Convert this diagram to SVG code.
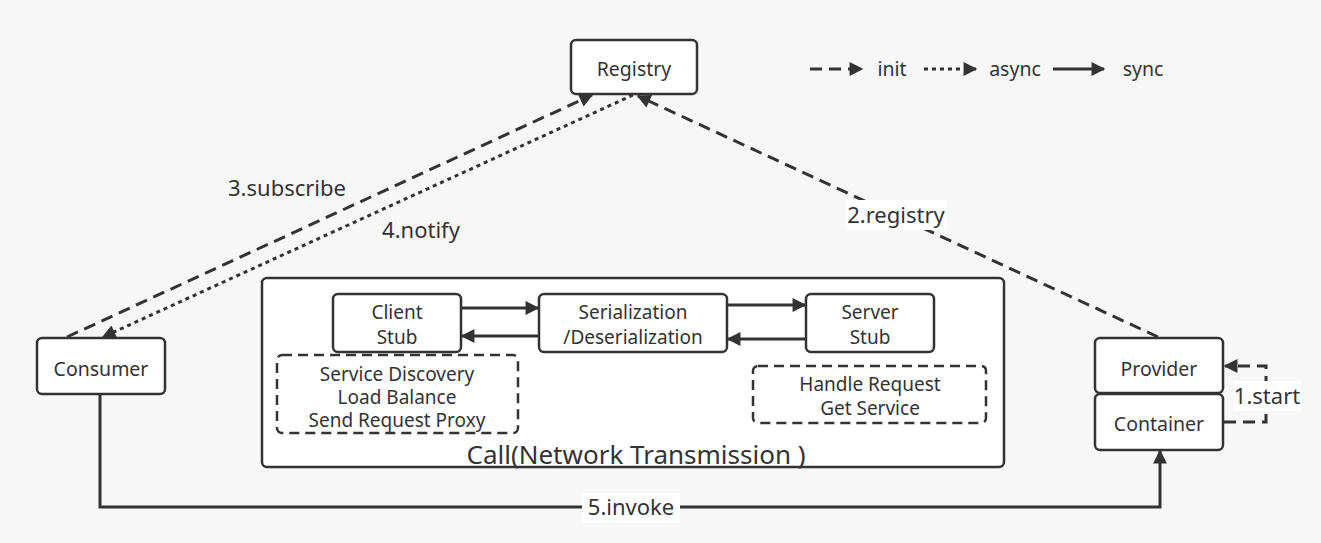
<svg xmlns="http://www.w3.org/2000/svg" width="1321" height="543" viewBox="0 0 1321 543">
<style>
.bg{fill:#f7f7f7}
.node{fill:#fff;stroke:#333;stroke-width:2.5}
.dbox{fill:none;stroke:#333;stroke-width:2.5;stroke-dasharray:10 6}
.t{font-family:"Noto Sans","Open Sans",sans-serif;font-size:19.5px;fill:#333;text-anchor:middle}
.m{font-size:19px}
.lbl{font-family:"Noto Sans","Open Sans",sans-serif;font-size:22px;fill:#333;text-anchor:middle}
.solid{fill:none;stroke:#333;stroke-width:3}
.dash{fill:none;stroke:#333;stroke-width:3;stroke-dasharray:12 7}
.dot{fill:none;stroke:#333;stroke-width:3;stroke-dasharray:4 4}
</style>
<defs>
<marker id="ah" viewBox="0 0 10 10" refX="9" refY="5" markerWidth="6.2" markerHeight="4.6" markerUnits="strokeWidth" orient="auto">
<path d="M0,0 L10,5 L0,10 z" fill="#333"/>
</marker>
</defs>
<rect class="bg" x="0" y="0" width="1321" height="543"/>

<g id="registry">
<rect class="node" x="571" y="40" width="126" height="54" rx="5"/>
<text class="t" x="634" y="76">Registry</text>
</g>
<g id="consumer">
<rect class="node" x="37" y="338" width="128" height="56" rx="5"/>
<text class="t" x="101" y="376">Consumer</text>
</g>
<g id="provider">
<rect class="node" x="1095" y="338" width="128" height="55" rx="5"/>
<text class="t" x="1159" y="376">Provider</text>
</g>
<g id="container">
<rect class="node" x="1095" y="394" width="128" height="56" rx="5"/>
<text class="t" x="1159" y="431">Container</text>
</g>
<g id="call">
<rect class="node" x="262" y="278" width="742" height="189" rx="5"/>
<text class="t" x="636" y="464" style="font-size:26px">Call(Network Transmission )</text>
</g>
<g id="client-stub">
<rect class="node" x="333" y="294" width="128" height="58" rx="5"/>
<text class="t m" x="397" y="319">Client</text>
<text class="t m" x="397" y="344">Stub</text>
</g>
<g id="serialization">
<rect class="node" x="539" y="294" width="188" height="58" rx="5"/>
<text class="t m" x="633" y="319">Serialization</text>
<text class="t m" x="633" y="344">/Deserialization</text>
</g>
<g id="server-stub">
<rect class="node" x="806" y="294" width="128" height="58" rx="5"/>
<text class="t m" x="870" y="319">Server</text>
<text class="t m" x="870" y="344">Stub</text>
</g>
<g id="client-features">
<rect class="dbox" x="277" y="355" width="241" height="78" rx="5"/>
<text class="t m" x="397" y="381">Service Discovery</text>
<text class="t m" x="397" y="404">Load Balance</text>
<text class="t m" x="397" y="427">Send Request Proxy</text>
</g>
<g id="server-features">
<rect class="dbox" x="753" y="366" width="233" height="57" rx="5"/>
<text class="t m" x="870" y="391">Handle Request</text>
<text class="t m" x="870" y="415">Get Service</text>
</g>

<g id="connectors">
<line class="dash" x1="67" y1="337" x2="592" y2="95" marker-end="url(#ah)"/>
<line class="dot" x1="633" y1="95" x2="103" y2="337" marker-end="url(#ah)"/>
<line class="dash" x1="1158" y1="337" x2="638" y2="96" marker-end="url(#ah)"/>
<polyline class="dash" points="1224,422 1266,422 1266,366 1225,366" marker-end="url(#ah)"/>
<polyline class="solid" points="100,395 100,507 1160,507 1160,451" marker-end="url(#ah)"/>
<line class="solid" x1="462" y1="308" x2="538" y2="308" marker-end="url(#ah)"/>
<line class="solid" x1="538" y1="336" x2="462" y2="336" marker-end="url(#ah)"/>
<line class="solid" x1="728" y1="305" x2="805" y2="305" marker-end="url(#ah)"/>
<line class="solid" x1="805" y1="339" x2="728" y2="339" marker-end="url(#ah)"/>
<rect x="1233" y="381" width="68" height="30" fill="#fff"/>
<text class="lbl" x="1267" y="404">1.start</text>
<rect x="582" y="493" width="98" height="30" fill="#fff"/>
<text class="lbl" x="631" y="515">5.invoke</text>
<rect x="846" y="200" width="101" height="30" fill="#fff"/>
<text class="lbl" x="896" y="223">2.registry</text>
<text class="lbl" x="287" y="196">3.subscribe</text>
<text class="lbl" x="421" y="238">4.notify</text>
</g>

<g id="legend">
<line class="dash" x1="810" y1="69" x2="862" y2="69" marker-end="url(#ah)"/>
<text class="t" x="892" y="76">init</text>
<line class="dot" x1="924" y1="69" x2="976" y2="69" marker-end="url(#ah)"/>
<text class="t" x="1015" y="76">async</text>
<line class="solid" x1="1053" y1="69" x2="1104" y2="69" marker-end="url(#ah)"/>
<text class="t" x="1143" y="76">sync</text>
</g>
</svg>
